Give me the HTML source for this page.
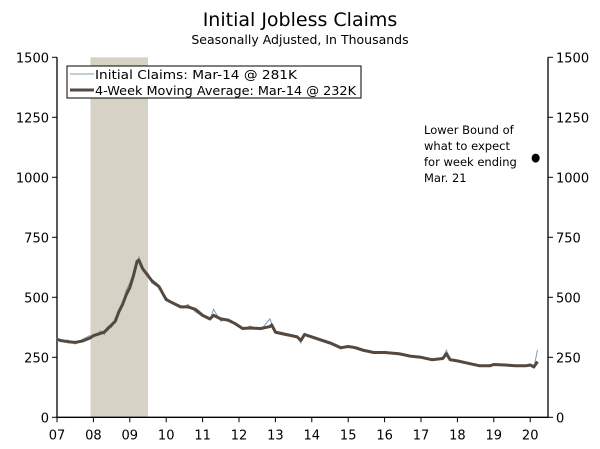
<!DOCTYPE html>
<html><head><meta charset="utf-8"><style>
body{margin:0;background:#fff;}
svg{display:block;font-family:"DejaVu Sans","Liberation Sans",sans-serif;}
</style></head><body>
<svg id="chart" width="600" height="449">
<text x="300" y="26" text-anchor="middle" font-size="19" fill="#000">Initial Jobless Claims</text>
<text x="300" y="44" text-anchor="middle" font-size="12.5" fill="#000">Seasonally Adjusted, In Thousands</text>
<g id="plot"></g>
</svg>
<script>
const yTicks=[0,250,500,750,1000,1250,1500];
const yearLabels=["07","08","09","10","11","12","13","14","15","16","17","18","19","20"];
const recession=[2007.92,2009.5];
const maYears=[2007.0,2007.1,2007.3,2007.5,2007.7,2007.9,2008.0,2008.2,2008.3,2008.4,2008.5,2008.6,2008.7,2008.8,2008.9,2009.0,2009.1,2009.2,2009.25,2009.35,2009.5,2009.6,2009.8,2010.0,2010.2,2010.4,2010.6,2010.8,2011.0,2011.2,2011.3,2011.5,2011.7,2011.9,2012.1,2012.3,2012.6,2012.85,2012.9,2013.0,2013.3,2013.6,2013.7,2013.8,2014.0,2014.2,2014.5,2014.8,2015.0,2015.2,2015.4,2015.7,2016.0,2016.4,2016.7,2017.0,2017.3,2017.6,2017.7,2017.8,2018.0,2018.3,2018.6,2018.9,2019.0,2019.3,2019.6,2019.9,2020.0,2020.1,2020.2];
const maValues=[325,320,315,312,318,330,340,350,355,370,385,400,440,470,510,540,590,650,655,620,590,570,545,490,475,460,460,450,425,410,425,410,405,390,370,372,370,378,385,355,345,335,320,345,335,325,310,290,295,290,280,270,270,265,255,250,240,245,265,240,235,225,215,215,220,218,215,215,218,210,232];
const claimValues=[330,315,322,305,325,340,335,360,345,380,375,410,450,460,530,560,600,640,670,610,600,560,540,500,470,455,470,440,420,405,450,400,410,385,365,380,365,410,390,350,340,338,310,350,330,320,305,285,300,285,275,268,275,260,252,248,238,250,280,236,232,222,212,218,222,215,212,212,220,205,281];
const dotYear=[2020.15], dotValue=[1080];
const L=57,R=548,T=57.3,B=417.3;
const xs=yr=>L+(yr-2007)*36.4;
const ys=v=>B-v*0.24;
const NS="http://www.w3.org/2000/svg";
const g=document.getElementById('plot');
function mk(t,a,p){const e=document.createElementNS(NS,t);for(const k in a)e.setAttribute(k,a[k]);(p||g).appendChild(e);return e;}
const rec=mk('rect',{x:xs(recession[0]),y:T,width:xs(recession[1])-xs(recession[0]),height:B-T,fill:'#d6d2c6'});


const ax=mk('path',{d:`M${L},${T}V${B}H${R}V${T}`,fill:'none',stroke:'#000','stroke-width':1.3});


yTicks.forEach(v=>{
  const y=ys(v);
  mk('line',{x1:L-5,x2:L,y1:y,y2:y,stroke:'#000'});
  mk('line',{x1:R,x2:R+5,y1:y,y2:y,stroke:'#000'});
  const tl=mk('text',{x:L-8,y:y+5,'text-anchor':'end','font-size':13});tl.textContent=v;
  
  
  const tr=mk('text',{x:R+8,y:y+5,'font-size':13});tr.textContent=v;
  
  
});
yearLabels.forEach((lab,i)=>{
  const x=xs(2007+i);
  mk('line',{x1:x,x2:x,y1:B,y2:B+5,stroke:'#000'});
  const t=mk('text',{x:x,y:B+22,'text-anchor':'middle','font-size':13});t.textContent=lab;
  
  
});
const cl=mk('polyline',{points:maYears.map((y,i)=>xs(y)+','+ys(claimValues[i])).join(' '),fill:'none',stroke:'#7f9cb5','stroke-width':1});


const ma=mk('polyline',{points:maYears.map((y,i)=>xs(y)+','+ys(maValues[i])).join(' '),fill:'none',stroke:'#54483f','stroke-width':3,'stroke-linejoin':'round'});


const dot=mk('ellipse',{cx:xs(dotYear[0]),cy:ys(dotValue[0]),rx:4,ry:4.5,fill:'#000'});


const ann=["Lower Bound of","what to expect","for week ending","Mar. 21"];
ann.forEach((s,i)=>{const t=mk('text',{x:424,y:134+i*16,'font-size':11.5});t.textContent=s;
  
  });
const lg=mk('g',{});


mk('rect',{x:67,y:66,width:294,height:32,fill:'#fff',stroke:'#000','stroke-width':1},lg);
mk('line',{x1:70,x2:94,y1:74,y2:74,stroke:'#7f9cb5'},lg);
mk('line',{x1:70,x2:94,y1:90,y2:90,stroke:'#54483f','stroke-width':3},lg);
const l1=mk('text',{x:95,y:79,'font-size':12.5,textLength:202,lengthAdjust:'spacingAndGlyphs'},lg);l1.textContent="Initial Claims: Mar-14 @ 281K";


const l2=mk('text',{x:95,y:95,'font-size':12.5,textLength:261,lengthAdjust:'spacingAndGlyphs'},lg);l2.textContent="4-Week Moving Average: Mar-14 @ 232K";


</script>
</body></html>
